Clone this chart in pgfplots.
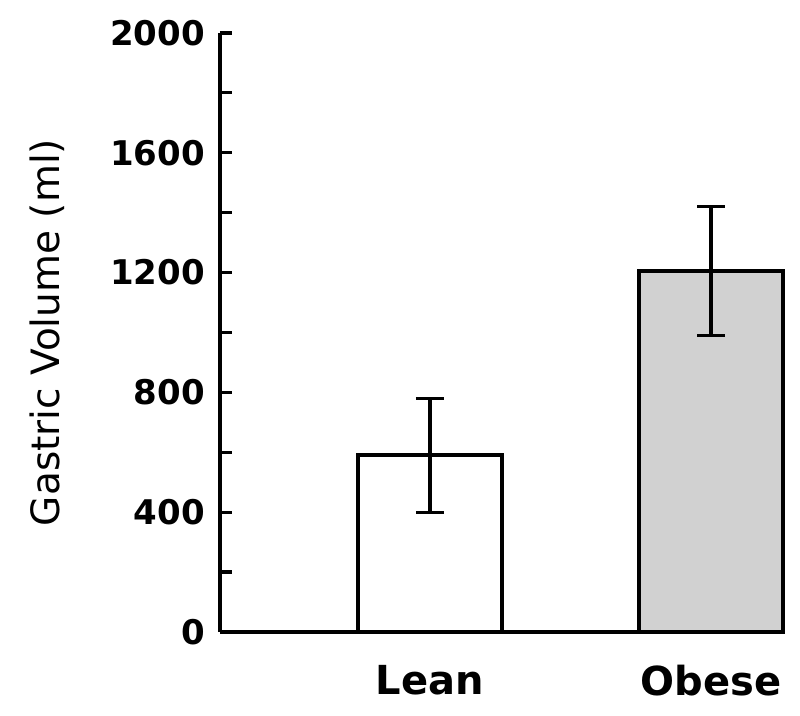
\documentclass[border=0pt]{standalone}
\usepackage{fontspec}
\setmainfont{DejaVu Sans}
\usepackage{pgfplots}
\pgfplotsset{compat=1.18}
\usetikzlibrary{calc}

\begin{document}
\begin{tikzpicture}
\begin{axis}[name=ax, scale only axis, width=281.5pt, height=299.5pt,
  xmin=0.253, xmax=2.256, ymin=0, ymax=2000,
  axis x line=bottom, axis y line=left, axis line style={-, line width=1.8pt},
  ytick={0,400,...,2000}, minor ytick={200,600,...,1800},
  tick align=inside, major tick length=6pt, minor tick length=6pt,
  tick style={line width=1.6pt, black},
  xtick={1,2}, xticklabels={Lean, Obese}, x tick style={draw=none},
  x tick label style={font=\fontsize{20}{22}\selectfont\bfseries, yshift=-7pt},
  y tick label style={font=\fontsize{17}{19}\selectfont\bfseries, xshift=-4pt},
  /pgf/number format/assume math mode=true,
  /pgf/number format/1000 sep={},
  ylabel={Gastric Volume (ml)}, ylabel style={font=\fontsize{19.5}{22}\selectfont, yshift=16pt},
  ybar, bar width=0.512, bar shift=0pt, clip=false]
\addplot[draw=black, line width=1.8pt, fill=white,
  error bars/.cd, y dir=both, y explicit,
  error bar style={line width=1.6pt, black},
  error mark options={rotate=90, mark size=7pt, line width=1.6pt, black}]
  coordinates {(1,590) +- (0,190)};
\addplot[draw=black, line width=1.8pt, fill=black!18,
  error bars/.cd, y dir=both, y explicit,
  error bar style={line width=1.6pt, black},
  error mark options={rotate=90, mark size=7pt, line width=1.6pt, black}]
  coordinates {(2,1205) +- (0,215)};
\end{axis}
\pgfresetboundingbox
\path[use as bounding box] ($(ax.south west)+(-110pt,-42pt)$) rectangle ($(ax.south west)+(290pt,316pt)$);
\end{tikzpicture}
\end{document}
